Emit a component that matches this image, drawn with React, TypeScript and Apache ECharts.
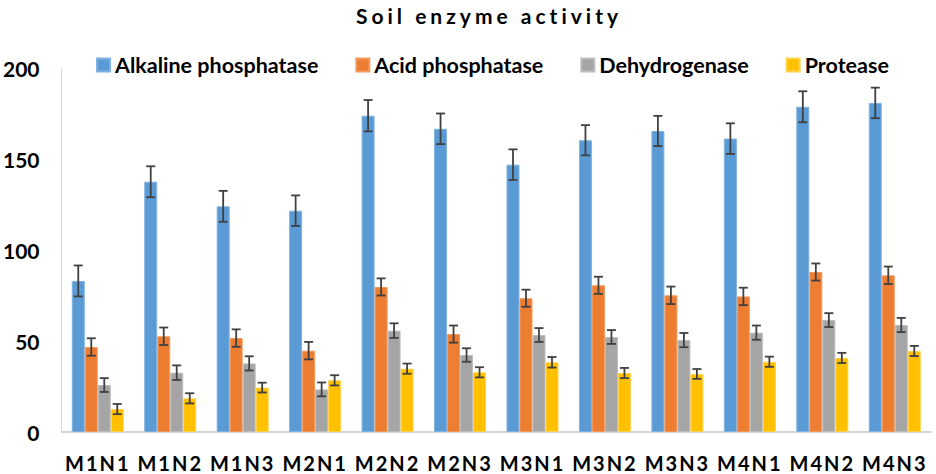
import React, { useEffect, useRef } from "react";
import * as echarts from "echarts";

const categories = ["M1N1", "M1N2", "M1N3", "M2N1", "M2N2", "M2N3", "M3N1", "M3N2", "M3N3", "M4N1", "M4N2", "M4N3"];
const seriesNames = ["Alkaline phosphatase", "Acid phosphatase", "Dehydrogenase", "Protease"];
const alkaline = [83, 137.5, 124, 121.6, 173.8, 166.6, 146.9, 160.3, 165.4, 161.2, 178.7, 180.8];
const acid = [46.7, 52.6, 51.6, 44.7, 79.7, 53.8, 73.5, 80.6, 75.1, 74.5, 87.9, 86.1];
const dehydrogenase = [25.8, 32.6, 37.7, 23.4, 55.7, 42.3, 53.3, 52.2, 50.5, 54.6, 61.5, 58.8];
const protease = [12.6, 18.5, 24.4, 28.4, 34.8, 32.8, 38.3, 32.4, 31.9, 38.6, 40.7, 44.5];
const alkalineErr = [8.5, 8.5, 8.5, 8.4, 8.6, 8.4, 8.4, 8.3, 8.3, 8.4, 8.5, 8.4];
const acidErr = [4.8, 4.8, 4.8, 4.8, 4.7, 4.7, 4.7, 4.7, 4.8, 4.8, 4.7, 4.8];
const dehydrogenaseErr = [3.8, 4.0, 3.9, 3.8, 4.0, 3.7, 3.8, 3.8, 3.9, 3.9, 3.8, 3.9];
const proteaseErr = [2.8, 2.8, 2.7, 2.8, 2.8, 2.8, 2.9, 2.8, 2.7, 2.8, 2.8, 2.8];
const yTicks = [0, 50, 100, 150, 200];

const colors = ["#5B9BD5", "#ED7D31", "#A5A5A5", "#FFC000"];
const borders = ["#7FB2E0", "#F29A5E", "#BDBDBD", "#FFD24D"];
const FONT = "Lato, 'Open Sans', sans-serif";
const BAR_W = 13;

export default function App() {
  const ref = useRef<HTMLDivElement>(null);
  useEffect(() => {
    if (!ref.current) return;
    document.body.style.margin = "0";
    const chart = echarts.init(ref.current, undefined, { renderer: "svg" });
    const values = [alkaline, acid, dehydrogenase, protease];
    const errs = [alkalineErr, acidErr, dehydrogenaseErr, proteaseErr];

    const barSeries = seriesNames.map((name, s) => ({
      name,
      type: "bar",
      data: values[s],
      barWidth: BAR_W,
      barGap: "0%",
      itemStyle: { color: colors[s], borderColor: borders[s], borderWidth: 1 },
      z: 2,
    }));

    const errSeries = seriesNames.map((name, s) => ({
      name: name + " err",
      type: "custom",
      data: values[s].map((v, i) => [i, v, errs[s][i]]),
      encode: { x: 0, y: 1 },
      z: 5,
      silent: true,
      renderItem: (params: any, api: any) => {
        const i = api.value(0);
        const v = api.value(1);
        const e = api.value(2);
        const off = (s - 1.5) * BAR_W;
        const hi = api.coord([i, v + e]);
        const lo = api.coord([i, v - e]);
        const x = hi[0] + off;
        const cap = 4.5;
        const style = { stroke: "#404040", lineWidth: 1.8 };
        return {
          type: "group",
          children: [
            { type: "line", shape: { x1: x, y1: hi[1], x2: x, y2: lo[1] }, style },
            { type: "line", shape: { x1: x - cap, y1: hi[1], x2: x + cap, y2: hi[1] }, style },
            { type: "line", shape: { x1: x - cap, y1: lo[1], x2: x + cap, y2: lo[1] }, style },
          ],
        };
      },
    }));

    chart.setOption({
      animation: false,
      graphic: [
        {
          type: "text",
          x: 489,
          y: 15,
          style: {
            text: "Soil enzyme activity",
            fontFamily: FONT,
            fontSize: 21,
            fontWeight: "bold",
            fill: "#000",
            textAlign: "center",
            textVerticalAlign: "middle",
          },
        },
      ],
      legend: {
        data: seriesNames,
        left: 96,
        top: 54,
        padding: 0,
        itemWidth: 13,
        itemHeight: 13,
        itemGap: 37,
        icon: "rect",
        textStyle: { fontFamily: FONT, fontSize: 21.5, fontWeight: "bold", color: "#000" },
      },
      grid: { left: 60, right: 5, top: 68, bottom: 42 },
      xAxis: {
        type: "category",
        data: categories,
        axisLine: { lineStyle: { color: "#C8C8C8", width: 1.5 } },
        axisTick: { show: false },
        axisLabel: { interval: 0, fontFamily: FONT, fontSize: 20, fontWeight: "bold", color: "#000", margin: 21 },
      },
      yAxis: {
        type: "value",
        min: yTicks[0],
        max: yTicks[yTicks.length - 1],
        interval: 50,
        splitLine: { show: false },
        axisLine: { show: true, lineStyle: { color: "#D9D9D9", width: 1 } },
        axisTick: { show: false },
        axisLabel: { fontFamily: FONT, fontSize: 21, fontWeight: "bold", color: "#000", margin: 22 },
      },
      series: [...barSeries, ...errSeries],
    });

    const applySpacing = () => {
      const el = ref.current;
      if (!el) return;
      el.querySelectorAll("text").forEach((t) => {
        const s = t.textContent || "";
        if (s === "Soil enzyme activity") (t as any).style.letterSpacing = "4px";
        else if (/^M\dN\d$/.test(s)) (t as any).style.letterSpacing = "2px";
      });
    };
    applySpacing();
    chart.on("finished", applySpacing);

    return () => {
      chart.dispose();
    };
  }, []);
  return <div ref={ref} style={{ width: 936, height: 474 }} />;
}
